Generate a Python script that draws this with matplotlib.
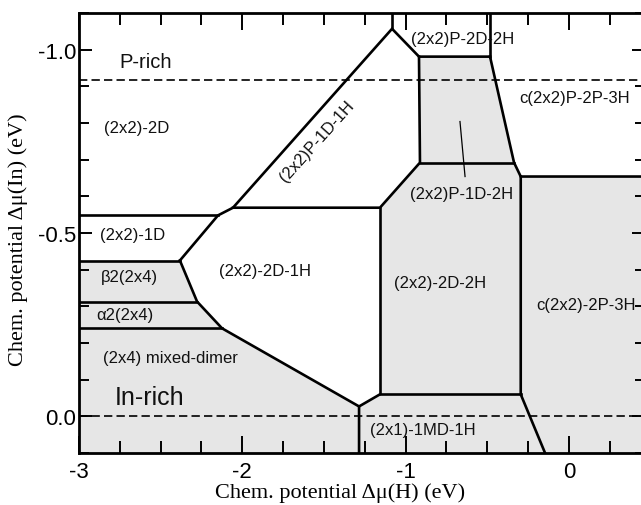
import matplotlib
matplotlib.use('Agg')
import matplotlib.pyplot as plt
from matplotlib.ticker import MultipleLocator, FormatStrFormatter

plt.rcParams['axes.unicode_minus'] = False

# chemical potential window (eV)
x_lim = (-3.0, 0.466)
y_lim = (0.1, -1.1)

# reference levels
p_rich = -0.918
in_rich = 0.0

# phase boundary corners, (dmu_H, dmu_In) in eV
Q = (-2.382, -0.425)
P = (-2.277, -0.313)
O = (-2.124, -0.240)
N = (-1.285, -0.027)
B = (-2.149, -0.548)
C = (-2.057, -0.569)
D = (-1.083, -1.057)
E = (-0.918, -0.981)
F = (-0.483, -0.981)
G = (-0.912, -0.692)
H = (-0.336, -0.692)
I = (-0.295, -0.654)
J = (-1.157, -0.569)
K = (-1.157, -0.060)
L = (-0.295, -0.060)
M = (-0.146, 0.100)

# edges used to close the regions (clipped by the axes)
xl, xr = -3.0, 0.7
yb, yt = 0.1, -1.2

gray_phases = [
    [(xl, Q[1]), Q, P, (xl, P[1])],                      # b2(2x4)
    [(xl, P[1]), P, O, (xl, O[1])],                      # a2(2x4)
    [(xl, O[1]), O, N, (N[0], yb), (xl, yb)],            # (2x4) mixed-dimer
    [(N[0], yb), N, K, L, M],                            # (2x1)-1MD-1H
    [J, G, H, I, L, K],                                  # (2x2)-2D-2H
    [E, F, H, G],                                        # (2x2)P-1D-2H
    [I, (xr, I[1]), (xr, yb), M, L],                     # c(2x2)-2P-3H
]

boundaries = [
    [(xl, B[1]), B],
    [(xl, Q[1]), Q],
    [(xl, P[1]), P],
    [(xl, O[1]), O],
    [Q, B, C, D, E, F],
    [D, (D[0], yt)],
    [F, (F[0], yt)],
    [C, J, G, E],
    [G, H],
    [F, H, I, (xr, I[1])],
    [I, L, M],
    [J, K, L],
    [Q, P, O, N, (N[0], yb)],
    [K, N],
]

labels = ['P-rich', '(2x2)-2D', '(2x2)-1D', 'β2(2x4)', 'α2(2x4)',
          '(2x4) mixed-dimer', 'In-rich', '(2x2)-2D-1H', '(2x2)P-1D-1H',
          '(2x2)P-2D-2H', 'c(2x2)P-2P-3H', '(2x2)P-1D-2H', '(2x2)-2D-2H',
          'c(2x2)-2P-3H', '(2x1)-1MD-1H']
label_x = [-2.59, -2.65, -2.67, -2.69, -2.72, -2.44, -2.565, -1.861, -1.543,
           -0.649, 0.037, -0.655, -0.789, 0.105, -0.893]
label_y = [-0.967, -0.787, -0.496, -0.381, -0.278, -0.161, -0.052, -0.398,
           -0.752, -1.03, -0.869, -0.608, -0.365, -0.305, 0.035]
label_size = [14.5, 12, 12, 12, 12, 12, 18, 12, 12, 12, 12, 12, 12, 12, 12]
label_rot = [0, 0, 0, 0, 0, 0, 0, 0, 48, 0, 0, 0, 0, 0, 0]

# pointer from the P-1D-2H label into its box
pointer_x = [-0.667, -0.636]
pointer_y = [-0.804, -0.654]

fig = plt.figure(figsize=(6.41, 5.06), dpi=100)
ax = fig.add_axes([79 / 641, 52 / 506, 566 / 641, 440 / 506])

for poly in gray_phases:
    xs = [p[0] for p in poly]
    ys = [p[1] for p in poly]
    ax.fill(xs, ys, color='#e6e6e6', lw=0, zorder=1)

for line in boundaries:
    xs = [p[0] for p in line]
    ys = [p[1] for p in line]
    ax.plot(xs, ys, color='black', lw=1.9, solid_joinstyle='miter', zorder=3)

ax.axhline(p_rich, color='black', lw=1.2, ls=(0, (5, 2.5)), zorder=2)
ax.axhline(in_rich, color='black', lw=1.2, ls=(0, (5, 2.5)), zorder=2)
ax.plot(pointer_x, pointer_y, color='black', lw=0.9, zorder=3)

for t, x, y, s, r in zip(labels, label_x, label_y, label_size, label_rot):
    ax.text(x, y, t, fontsize=s, rotation=r, ha='center', va='center',
            family='Liberation Sans', color='#111111', zorder=4)

ax.set_xlim(x_lim)
ax.set_ylim(y_lim)

ax.xaxis.set_major_locator(MultipleLocator(1))
ax.xaxis.set_minor_locator(MultipleLocator(0.25))
ax.yaxis.set_major_locator(MultipleLocator(0.5))
ax.yaxis.set_minor_locator(MultipleLocator(0.1))
ax.xaxis.set_major_formatter(FormatStrFormatter('%d'))
ax.yaxis.set_major_formatter(FormatStrFormatter('%.1f'))

ax.tick_params(which='both', direction='in', top=True, right=True,
               width=1.4, labelsize=16)
ax.tick_params(axis='x', which='major', length=12, pad=6)
ax.tick_params(axis='x', which='minor', length=8.5)
ax.tick_params(axis='y', which='major', length=9.5, pad=2)
ax.tick_params(axis='y', which='minor', length=7.5)
for lab in ax.get_xticklabels() + ax.get_yticklabels():
    lab.set_family('Liberation Sans')
for sp in ax.spines.values():
    sp.set_linewidth(2)

fig.text(340 / 641, 1 - 493 / 506, 'Chem. potential Δμ(H) (eV)',
         family='Liberation Serif', fontsize=16, ha='center', va='center')
fig.text(18 / 641, 1 - 240 / 506, 'Chem. potential Δμ(In) (eV)',
         family='Liberation Serif', fontsize=16, ha='center', va='center',
         rotation=90)

fig.savefig('out.png', dpi=100)
